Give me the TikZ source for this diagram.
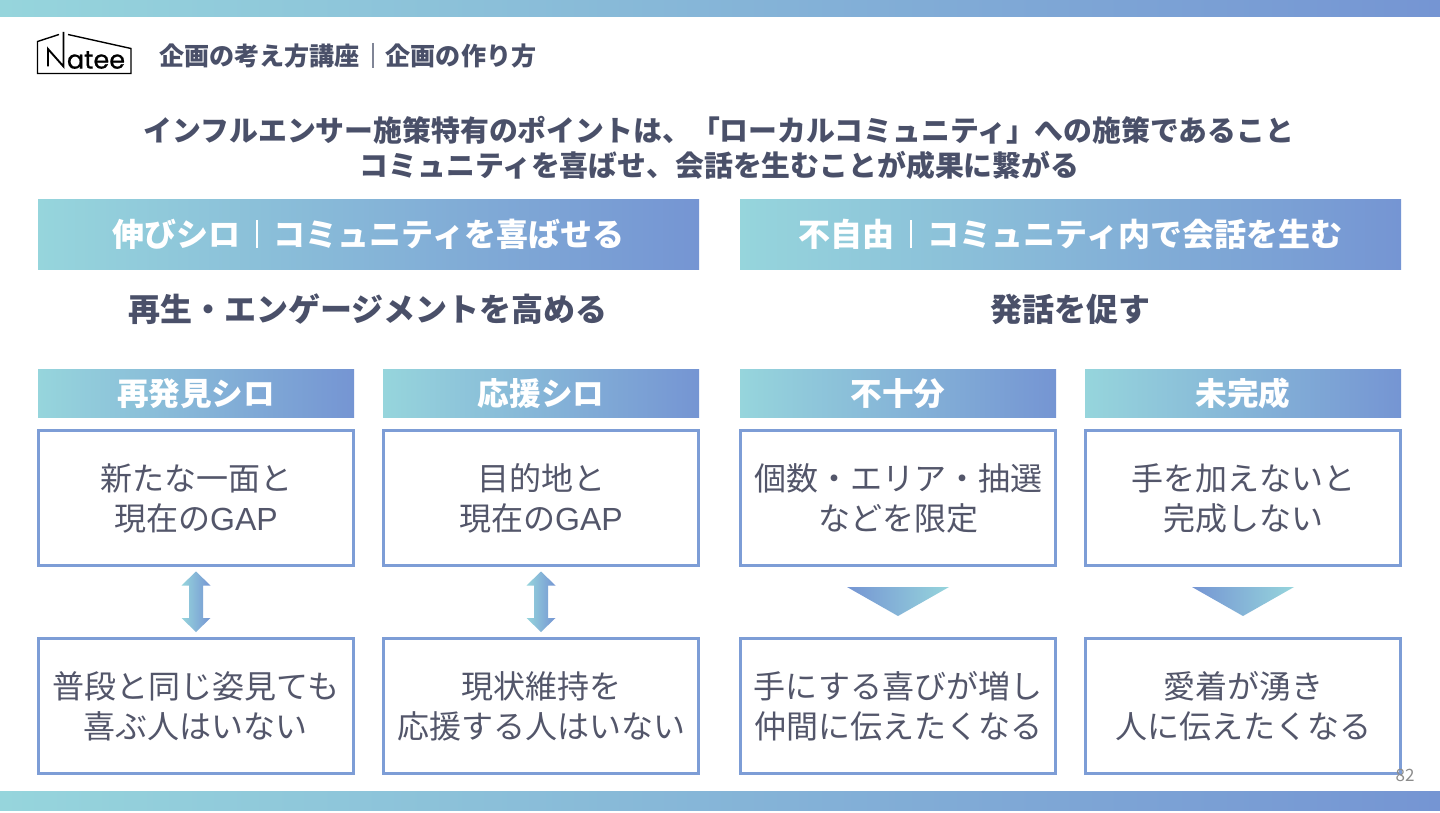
\documentclass[tikz,border=0pt]{standalone}
\usepackage{fontspec}
\setmainfont{Noto Sans CJK JP}
\newfontfamily\gapfont{Liberation Sans}
\newfontfamily\logofont[FakeBold=0.8]{Poppins}
\definecolor{gl}{HTML}{96D5DC}
\definecolor{gr}{HTML}{7595D3}
\definecolor{tdark}{HTML}{4A5069}
\definecolor{tbox}{HTML}{53566A}
\definecolor{bd}{HTML}{7D9DD6}
\begin{document}
\begin{tikzpicture}[x=1pt,y=-1pt,
  hd/.style={font=\bfseries\fontsize{32}{36}\selectfont,text=white,inner sep=0},
  sub/.style={font=\bfseries\fontsize{32}{36}\selectfont,text=tdark,inner sep=0},
  ttl/.style={font=\bfseries\fontsize{28.85}{38}\selectfont,text=tdark,inner sep=0,align=center},
  bx/.style={draw=bd,line width=3pt,fill=white,rectangle,minimum width=315pt,minimum height=135pt,inner sep=0,align=center,font=\fontsize{32}{40}\selectfont,text=tbox},
  hbar/.style={left color=gl,right color=gr,rectangle,minimum width=316pt,minimum height=48.5pt,inner sep=0,font=\bfseries\fontsize{31.6}{34}\selectfont,text=white},
  wbar/.style={left color=gl,right color=gr,rectangle,minimum width=661pt,minimum height=70.5pt,inner sep=0},
  tbar/.style={left color=gl,right color=gr,rectangle,minimum width=1440pt,inner sep=0},
]
\useasboundingbox (0,0) rectangle (1440,813);
\fill[white] (0,0) rectangle (1440,813);
\node[tbar,minimum height=17pt] (topbar) at (720,8.5) {};
\node[tbar,minimum height=19pt] (botbar) at (720,801) {};
% logo
\draw[black,line width=1.4pt,line join=miter]
  (59,34.5) -- (37.5,41.5) -- (37.5,73.5) -- (131,73.5) -- (131,48.5) -- (68,34.5);
\draw[black,line width=1.9pt] (48,66.5) -- (48,49) -- (63.5,66.5) -- (63.5,32);
\node[font=\logofont\fontsize{25.5}{25.5}\selectfont,text=black,inner sep=0] (logo) at (96,60) {atee};
% header
\node[font=\bfseries\fontsize{25.1}{30}\selectfont,text=tdark,inner sep=0,anchor=center] (h1) at (259.5,56) {企画の考え方講座};
\node[font=\bfseries\fontsize{25.1}{30}\selectfont,text=tdark,inner sep=0,anchor=center] (h2) at (461,56) {企画の作り方};
\draw[tdark!70,line width=1.2pt] (373,43) -- (373,68);
% title
\node[ttl] (title1) at (719,130) {インフルエンサー施策特有のポイントは、「ローカルコミュニティ」への施策であること};
\node[ttl] (title2) at (719.5,165) {コミュニティを喜ばせ、会話を生むことが成果に繋がる};
% wide bars
\node[wbar] (w1) at (368.5,234.5) {};
\node[wbar] (w2) at (1070.5,234.5) {};
\node[hd] (w1a) at (176.5,234) {伸びシロ};
\node[hd] (w1b) at (449,234) {コミュニティを喜ばせる};
\draw[white,line width=1.2pt] (257,220) -- (257,248);
\node[hd] (w2a) at (846,234) {不自由};
\node[hd] (w2b) at (1135,234) {コミュニティ内で会話を生む};
\draw[white,line width=1.2pt] (911,220) -- (911,248);
% sub titles
\node[sub] (s1) at (368,309) {再生・エンゲージメントを高める};
\node[sub] (s2) at (1070.5,309) {発話を促す};
% small bars
\node[hbar] (a0) at (196,393.25) {再発見シロ};
\node[hbar] (b0) at (541,393.25) {応援シロ};
\node[hbar] (c0) at (898,393.25) {不十分};
\node[hbar] (d0) at (1243,393.25) {未完成};
% boxes
\node[bx] (a1) at (196,498) {新たな一面と\\現在の{\gapfont GAP}};
\node[bx] (b1) at (541,498) {目的地と\\現在の{\gapfont GAP}};
\node[bx] (c1) at (898,498) {個数・エリア・抽選\\などを限定};
\node[bx] (d1) at (1243,498) {手を加えないと\\完成しない};
\node[bx] (a2) at (196,706) {普段と同じ姿見ても\\喜ぶ人はいない};
\node[bx] (b2) at (541,706) {現状維持を\\応援する人はいない};
\node[bx] (c2) at (898,706) {手にする喜びが増し\\仲間に伝えたくなる};
\node[bx] (d2) at (1243,706) {愛着が湧き\\人に伝えたくなる};
% double arrows
\foreach \cx in {196,541}{
  \path[left color=gl,right color=gr]
    (\cx,571.5) -- (\cx+14.5,585.5) -- (\cx+7,585.5) -- (\cx+7,618) -- (\cx+14.5,618) -- (\cx,632) -- (\cx-14.5,618) -- (\cx-7,618) -- (\cx-7,585.5) -- (\cx-14.5,585.5) -- cycle;
}
% triangles
\foreach \cx in {898,1243}{
  \path[left color=gr,right color=gl]
    (\cx-51,587) -- (\cx+51,587) -- (\cx,616) -- cycle;
}
\node[font=\fontsize{17}{18}\selectfont,text=gray!90,inner sep=0] (pg) at (1405,775) {82};
\end{tikzpicture}
\end{document}
